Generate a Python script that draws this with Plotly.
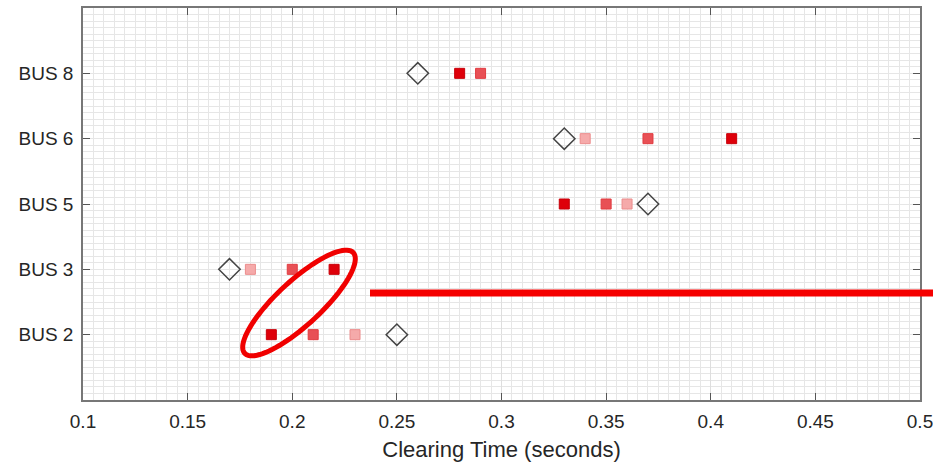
import numpy as np
import plotly.graph_objects as go

# ---- data ----
bus_labels = ["BUS 2", "BUS 3", "BUS 5", "BUS 6", "BUS 8"]
bus_pos = [1, 2, 3, 4, 5]
x_ticks = [0.1, 0.15, 0.2, 0.25, 0.3, 0.35, 0.4, 0.45, 0.5]

diamond_x = [0.25, 0.17, 0.37, 0.33, 0.26]
dark_x = [0.19, 0.22, 0.33, 0.41, 0.28]
medium_x = [0.21, 0.20, 0.35, 0.37, 0.29]
light_x = [0.23, 0.18, 0.36, 0.34, None]

fig = go.Figure()

fig.add_trace(go.Scatter(x=light_x, y=bus_pos, mode="markers",
    marker=dict(symbol="square", size=10, color="rgb(245,170,170)",
                line=dict(color="rgb(235,140,140)", width=1)), showlegend=False))
fig.add_trace(go.Scatter(x=medium_x, y=bus_pos, mode="markers",
    marker=dict(symbol="square", size=10, color="rgb(232,80,85)",
                line=dict(color="rgb(225,60,65)", width=1)), showlegend=False))
fig.add_trace(go.Scatter(x=dark_x, y=bus_pos, mode="markers",
    marker=dict(symbol="square", size=10, color="rgb(222,0,10)",
                line=dict(color="rgb(200,0,10)", width=1)), showlegend=False))
fig.add_trace(go.Scatter(x=diamond_x, y=bus_pos, mode="markers",
    marker=dict(symbol="diamond-open", size=16.5, color="#444444",
                line=dict(color="#444444", width=1.5)), showlegend=False))

# ---- annotation ellipse (tilted) ----
x0, x1 = 0.1, 0.5
plot_l, plot_r, plot_t, plot_b = 83, 920, 8, 400
xs = (plot_r - plot_l) / (x1 - x0)
ys = (plot_b - plot_t) / 6.0
cx, cy, a, b, th = 299.0, 303.0, 74.0, 22.0, np.deg2rad(42.8)
t = np.linspace(0, 2 * np.pi, 90)
px = cx + a * np.cos(th) * np.cos(t) - b * np.sin(th) * np.sin(t)
py = cy - (a * np.sin(th) * np.cos(t) + b * np.cos(th) * np.sin(t))
dx = x0 + (px - plot_l) / xs
dy = (plot_b - py) / ys
path = "M " + " L ".join(f"{u:.5f},{v:.5f}" for u, v in zip(dx, dy)) + " Z"
fig.add_shape(type="path", path=path, xref="x", yref="y",
              line=dict(color="rgb(240,0,0)", width=5))

# red horizontal line extending past the right axis
pw = plot_r - plot_l
ph = plot_b - plot_t
fig.add_shape(type="line", xref="paper", yref="paper",
              x0=(370 - plot_l) / pw, x1=(940 - plot_l) / pw,
              y0=(plot_b - 293) / ph, y1=(plot_b - 293) / ph,
              line=dict(color="rgb(245,0,0)", width=7))

fig.update_layout(
    width=933, height=462,
    margin=dict(l=plot_l, r=933 - plot_r, t=plot_t, b=462 - plot_b),
    plot_bgcolor="white", paper_bgcolor="white",
    font=dict(family="Liberation Sans, Arial, sans-serif", size=19, color="#262626"),
)
fig.update_xaxes(
    range=[x0, x1], tickvals=x_ticks, ticktext=[f"{v:g}" for v in x_ticks],
    ticks="inside", ticklen=7, tickcolor="#555", tickwidth=1,
    showline=True, linecolor="#777", linewidth=1.5, mirror="ticks",
    showgrid=True, gridcolor="#dedede", gridwidth=1, zeroline=False,
    minor=dict(dtick=0.005, showgrid=True, gridcolor="#e6e6e6", gridwidth=1, ticks=""),
    title=dict(text="Clearing Time (seconds)", standoff=12, font=dict(size=22)),
    ticklabelstandoff=3, automargin=False, ticklabeloverflow="allow",
)
fig.update_yaxes(
    range=[0, 6], tickvals=bus_pos, ticktext=bus_labels,
    ticks="inside", ticklen=7, tickcolor="#555", tickwidth=1,
    showline=True, linecolor="#777", linewidth=1.5, mirror="ticks",
    showgrid=True, gridcolor="#e6e6e6", gridwidth=1, zeroline=False,
    minor=dict(dtick=0.1, showgrid=True, gridcolor="#e6e6e6", gridwidth=1, ticks=""),
    ticklabelstandoff=4, automargin=False,
)

fig.write_html("out.html")
